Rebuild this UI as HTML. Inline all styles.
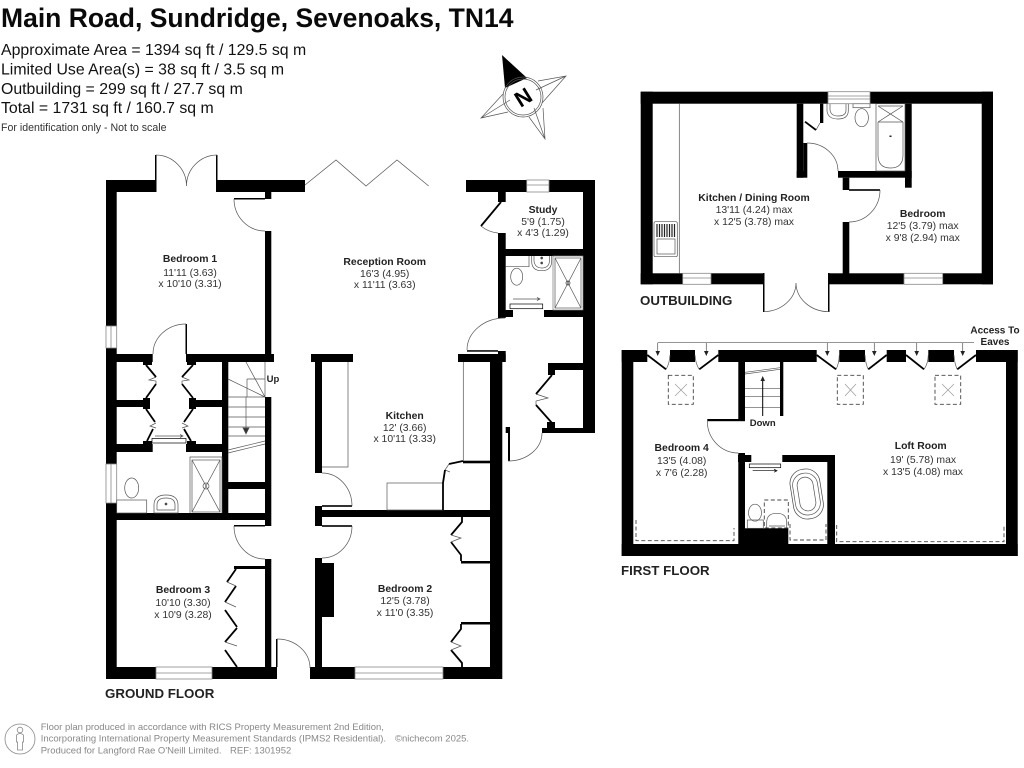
<!DOCTYPE html>
<html><head><meta charset="utf-8"><title>Floor plan</title>
<style>
html,body{margin:0;padding:0;background:#fff;width:1024px;height:768px;overflow:hidden}
svg{display:block}
text{font-family:"Liberation Sans",sans-serif}
.b{font-weight:700;font-size:10.4px;fill:#222;text-anchor:middle}
.d{font-size:10.4px;fill:#333;text-anchor:middle}
.f{font-weight:700;font-size:13.3px;fill:#222}
.i{font-size:15.85px;fill:#111}
.s{font-size:9.5px;fill:#888}
.t{fill:none;stroke:#555;stroke-width:.7}
.g{fill:none;stroke:#888;stroke-width:.8}
.k{fill:none;stroke:#000;stroke-width:1.8}
.da{fill:none;stroke:#444;stroke-width:.9;stroke-dasharray:4 2.5}
</style></head><body>
<svg width="1024" height="768" viewBox="0 0 1024 768" xmlns="http://www.w3.org/2000/svg">
<rect width="1024" height="768" fill="#fff"/>
<text x="1" y="27" font-size="26.5" font-weight="700" fill="#0a0a0a">Main Road, Sundridge, Sevenoaks, TN14</text>
<text class="i" x="1" y="55">Approximate Area = 1394 sq ft / 129.5 sq m</text>
<text class="i" x="1" y="74.5">Limited Use Area(s) = 38 sq ft / 3.5 sq m</text>
<text class="i" x="1" y="94">Outbuilding = 299 sq ft / 27.7 sq m</text>
<text class="i" x="1" y="113">Total = 1731 sq ft / 160.7 sq m</text>
<text x="1" y="131" font-size="10.6" fill="#333">For identification only - Not to scale</text>

<!-- compass -->
<g>
<path d="M502 55 L527 78 L505 88 Z" fill="#000"/>
<path d="M538 81 L566 76 L542 103 M542 103 L566 76 M543 108 L545 139 L529 117 M508 112 L481 118 L503 94 M481 118 L510 100 M566 76 L536 90 M545 139 L534 108" class="t"/>
<circle cx="523" cy="97" r="20" class="t"/><circle cx="523" cy="97" r="18" class="t"/>
<text x="523" y="105" font-size="22" font-weight="700" text-anchor="middle" transform="rotate(-32 523 97)" fill="#000">N</text>
</g>

<!-- GROUND FLOOR walls -->
<g fill="#000">
<rect x="106" y="180" width="50" height="12"/><rect x="216.5" y="180" width="88.5" height="12"/>
<rect x="265" y="192" width="6.3" height="7"/>
<rect x="106" y="180" width="10.7" height="146"/><rect x="106" y="348" width="10.7" height="116"/><rect x="106" y="503" width="10.7" height="176"/>
<rect x="116" y="354" width="36.7" height="8"/><rect x="186" y="354" width="88" height="8"/>
<rect x="143" y="362" width="9" height="3"/><rect x="187" y="362" width="9" height="3"/>
<rect x="222" y="354" width="6.3" height="163"/>
<rect x="116" y="400" width="30" height="7"/><rect x="143" y="398" width="7" height="11"/><rect x="189" y="400" width="33" height="7"/><rect x="189" y="398" width="7" height="11"/>
<rect x="116" y="444" width="36.7" height="8"/><rect x="186" y="444" width="36" height="8"/>
<rect x="143" y="441" width="9" height="3"/><rect x="187" y="441" width="9" height="3"/>
<rect x="116" y="513" width="149" height="7"/><rect x="228" y="482" width="37" height="7"/>
<rect x="265" y="231" width="6.3" height="130"/><rect x="265" y="397" width="6.3" height="129"/><rect x="265" y="559" width="6.3" height="110"/>
<rect x="106" y="667" width="50" height="12"/><rect x="212" y="667" width="65" height="12"/>
<rect x="276" y="639" width="1.5" height="28"/>
<rect x="310" y="667" width="45" height="12"/><rect x="443" y="667" width="59" height="12"/>
<rect x="311" y="354" width="42" height="8"/><rect x="315" y="362" width="7" height="111"/>
<rect x="315" y="506" width="7" height="20"/><rect x="322" y="510" width="168" height="7"/>
<rect x="315" y="558" width="7" height="110"/><rect x="322" y="563" width="12" height="54"/>
<rect x="458" y="354" width="47.7" height="8"/><rect x="498" y="351" width="7.7" height="11"/>
<rect x="490" y="354" width="12.3" height="325"/>
<rect x="466" y="180" width="60.7" height="12"/><rect x="549" y="180" width="46" height="12"/>
<rect x="498" y="192" width="7.7" height="10"/><rect x="498" y="233" width="7.7" height="85"/>
<rect x="498" y="310" width="15" height="7"/><rect x="544" y="310" width="39" height="7"/>
<rect x="505" y="249" width="78" height="7"/>
<rect x="583" y="180" width="12" height="253"/>
<rect x="548" y="363" width="35" height="7"/><rect x="548" y="363" width="7" height="12"/>
<rect x="542" y="428" width="53" height="5"/><rect x="547" y="422" width="8" height="6"/>
<rect x="508" y="428" width="2" height="33"/><rect x="505.7" y="427" width="4.3" height="6"/>
<rect x="234" y="198" width="31" height="1.5"/><rect x="234" y="525" width="31" height="1.5"/>
<rect x="322" y="505.2" width="30" height="1.6"/><rect x="322" y="525.2" width="30" height="1.6"/>
<rect x="467" y="350.2" width="31" height="1.5"/>
<rect x="185.5" y="324" width="1.5" height="30"/>
<rect x="234" y="566" width="31" height="3"/>
<rect x="461" y="561" width="29" height="2.5"/><rect x="461" y="622" width="29" height="2.5"/>
<rect x="463" y="460.7" width="27" height="2.6"/>
<rect x="155" y="155" width="1.5" height="37"/><rect x="216" y="155" width="1.5" height="37"/>
</g>
<g class="t">
<path d="M156 155 A31 31 0 0 1 186.5 186 M217 155 A31 31 0 0 0 186.5 186"/>
<path d="M234 199 A31 32 0 0 0 265 231 M234 526 A31 33 0 0 0 265 559 M186 324 A33 30 0 0 0 153 354"/>
<path d="M277 639 A33 29 0 0 1 310 668"/>
<path d="M322 473 A30 33 0 0 1 352 506 M352 526 A30 32 0 0 1 322 558"/>
<path d="M467 350 A38 32 0 0 1 505 318 M481 226 Q488 232 498 233"/>
<path d="M542 433 A34 28 0 0 1 508 461"/>
<path d="M305 185 L336 160 L366 186 L397 160 L428.7 186"/>
<path d="M322 467 H348 V362"/><path d="M463.3 362 V461"/>
<rect x="387" y="483" width="56" height="27"/>
<!-- closets zig -->
<path d="M156 377 L149 380 L156 381 L156 384 M182 377 L189 380 L182 381 L182 384 M156 423 L150 426 L156 428 M182 423 L188 426 L182 428"/>
<path d="M536 394 L548 398 L536 401 L536 405"/>
<path d="M449 464 L445 470 L450 472"/>
<!-- stairs -->
<path d="M265 362 V397 M246 362 L265 397 M228 379 L265 397 M247 379 H265 M247 379 V397 M228 397 H265 M228 407 H265 M228 417 H265 M228 427 H265 M228 436 H265 M228 450 L265 441 M228 453 L265 444"/>
<path d="M246 397 V432"/><path d="M243 428 L246 434 L249 428 Z" fill="#333"/>
<path d="M190 513 V457 H222 V513"/>
</g>
<g class="g">
<rect x="106" y="326" width="10.7" height="22"/><path d="M111 326 V348"/>
<rect x="526.7" y="180" width="22.3" height="12"/><path d="M526.7 185 H549"/>
<rect x="106" y="464" width="10.7" height="39"/><path d="M111 464 V503"/>
<rect x="156" y="667" width="56" height="12"/><path d="M156 673 H212"/>
<rect x="355" y="667" width="88" height="12"/><path d="M355 673 H443"/>
</g>
<g class="k">
<path d="M146 365 L156 377 M156 384 L146 398 M193 365 L182 377 M182 384 L193 398 M146 409 L155 422 M153 429 L147 441 M193 409 L184 422 M184 429 L191 441"/>
<path d="M501 202 L481 226"/>
<path d="M552 375 L536 394 M536 405 L552 423"/>
<path d="M236 569 L227 582 M236 586 L225 602 M225 610 L237 627 M237 628 L225 642 M225 650 L237 667"/>
<path d="M463 461 L449 464 M445 470 L443 483 V510"/>
<path d="M462 517 V522 L451 535 M451 542 L461 555 V561"/>
<path d="M461 624 V629 L451 642 M451 650 L462 663 V667"/>
</g>
<g class="t">
<path d="M227 582 L236 586 M225 602 L236 607 M225 642 L237 646"/>
<path d="M451 535 L461 538 L451 542 M451 642 L461 646 L451 650"/>
<!-- GF bath -->
<rect x="192" y="460" width="28" height="52"/><path d="M192 460 L220 512 M220 460 L192 512"/>
<circle cx="206" cy="486" r="3"/>
<ellipse cx="131.7" cy="488" rx="7" ry="10"/><rect x="116.7" y="500" width="30" height="13"/>
<path d="M154 513 V505 Q154 495 166 495 Q178 495 178 505 V513 Z"/><path d="M157 510 V505 Q157 498 166 498 Q175 498 175 505 V510 H157"/>
<circle cx="166" cy="504" r="1" fill="#333"/>
<rect x="152" y="438.5" width="34" height="4.5" stroke="#000"/>
<path d="M155 436 H182 M180 434.5 L183 436 L180 437.5"/>
<!-- upper shower room -->
<rect x="553" y="256" width="30" height="54" stroke="#777"/><rect x="555" y="258" width="26" height="50"/>
<path d="M555 258 L581 308 M581 258 L555 308"/><circle cx="568" cy="283" r="2" stroke="#222"/>
<path d="M505.7 266.7 H529 V256"/><ellipse cx="516.7" cy="276.7" rx="6" ry="8.5"/>
<path d="M531.7 256 V262 Q532 270.7 541.7 270.7 Q551 270.7 551.7 262 V256 M534 256 V261 Q535 268 541.7 268 Q549 268 549.5 261 V256"/>
<circle cx="541.7" cy="263" r="1" fill="#333"/><circle cx="541.7" cy="258" r="1" fill="#333"/>
<rect x="510" y="304" width="32.7" height="4.7" stroke="#000"/>
<path d="M513 299 H539 M537 297.5 L540 299 L537 300.5"/>
</g>

<!-- OUTBUILDING -->
<g fill="#000">
<rect x="640.7" y="91.7" width="187.3" height="12"/><rect x="870" y="91.7" width="123" height="12"/>
<rect x="640.7" y="91.7" width="12" height="192.6"/><rect x="981.7" y="91.7" width="11.3" height="192.6"/>
<rect x="640.7" y="273.3" width="42" height="11"/><rect x="711" y="273.3" width="52.3" height="11"/>
<rect x="828.7" y="273.3" width="75.3" height="11"/><rect x="942.7" y="273.3" width="50.3" height="11"/>
<rect x="796.7" y="103.7" width="6.6" height="74"/><rect x="796.7" y="171" width="10.6" height="6.7"/><rect x="803.3" y="143" width="4" height="28"/>
<rect x="820" y="103.7" width="3.3" height="19.3"/>
<rect x="838" y="171" width="73.7" height="6.7"/><rect x="905" y="103.7" width="6.7" height="84"/>
<rect x="842.7" y="177.7" width="6.6" height="12.3"/><rect x="849" y="189.2" width="31" height="1.6"/>
<rect x="842.7" y="222" width="6.6" height="52"/>
<rect x="763" y="273" width="1.5" height="39"/><rect x="828" y="273" width="1.5" height="39"/>
</g>
<g class="t">
<path d="M679.3 103.7 V273.3"/>
<path d="M807 143 A31 28 0 0 1 838 171 M880 190 A31 32 0 0 1 849 222 M816 130 L820 123"/>
<path d="M764 311.7 A33 29 0 0 0 796 283 M829 311.7 A33 29 0 0 1 796 283"/>
<rect x="654" y="221.7" width="23.3" height="35" rx="1.5"/><rect x="657" y="239" width="18" height="15"/>
<path d="M827 103.7 V111 Q828 119 838 119 Q848 119 848.3 111 V103.7 M830 104 V110 Q831 116 838 116 Q846 116 846 110 V104"/>
<ellipse cx="861.7" cy="117.7" rx="6.7" ry="9"/><rect x="853" y="103.7" width="17" height="4"/>
<rect x="876" y="103.7" width="29" height="67.3"/>
<path d="M878 106 L903 106 M878 106 L903 122 M903 106 L878 122 M878 122 H903"/>
<path d="M878 122 V155 Q878 168 890.5 168 Q903 168 903 155 V122"/>
</g>
<path d="M657 224 V237 M659.5 224 V237 M662 224 V237 M664.5 224 V237 M667 224 V237 M669.5 224 V237 M672 224 V237 M674.5 224 V237" stroke="#222" stroke-width="1.2"/>
<rect x="889.5" y="135.5" width="2" height="1.5" fill="#222"/>
<g class="k"><path d="M805 121.7 L816 130" /></g>
<g class="g">
<rect x="682.7" y="273.3" width="28.3" height="11"/><path d="M682.7 278 H711"/>
<rect x="828" y="91.7" width="42" height="12"/><path d="M828 96 H870 M828 99 H870"/>
<rect x="904" y="273.3" width="38.7" height="11"/><path d="M904 278 H942.7"/>
</g>

<!-- FIRST FLOOR -->
<g fill="#000">
<rect x="621.7" y="350" width="25.6" height="12"/><rect x="670" y="350" width="25" height="12"/>
<rect x="718.3" y="350" width="98.4" height="12"/><rect x="839.3" y="350" width="25.7" height="12"/>
<rect x="886.7" y="350" width="19.3" height="12"/><rect x="928.3" y="350" width="25.7" height="12"/>
<rect x="976" y="350" width="41.7" height="12"/>
<rect x="621.7" y="350" width="11.6" height="206"/><rect x="1006" y="350" width="11.7" height="206"/>
<rect x="621.7" y="544" width="396" height="12"/>
<rect x="738.3" y="362" width="6.7" height="59"/><rect x="780" y="362" width="3.3" height="54"/>
<rect x="707.3" y="419" width="37.7" height="2.2"/>
<rect x="738.3" y="453" width="6.7" height="95"/><rect x="738" y="455" width="13.3" height="7"/>
<rect x="782.3" y="455" width="52.7" height="7"/><rect x="827.3" y="455" width="7.7" height="92"/>
<rect x="745" y="528.3" width="43.3" height="16"/>
</g>
<g class="t">
<path d="M707.3 421 A31 32 0 0 0 738.3 453"/>
<path d="M666 369.3 Q669.5 364 670 355 M699.3 369.3 Q695.5 364 695 355 M836 369.3 Q839 364 839.3 355 M868.3 369.3 Q865.5 364 865 355 M924 369.3 Q928 364 928.3 355 M957.3 369.3 Q954.5 364 954 355"/>
<path d="M657.7 342.7 H974"/>
<path d="M657.7 342.7 V354 M706.3 342.7 V354 M827.3 342.7 V354 M874.3 342.7 V354 M916.7 342.7 V354 M962.7 342.7 V354"/>
<path d="M745 372.3 L780 367.7 M745 374 L780 369.3 M745 388.3 H780 M745 396.7 H780 M745 407.3 H780"/>
<path d="M762.7 416 V379" stroke="#000" stroke-width="1"/>
<rect x="749.3" y="464" width="31.4" height="3.7" stroke="#000"/>
<path d="M752.7 470.7 H776 M774 469.2 L777 470.7 L774 472.2" stroke="#000"/>
<g transform="rotate(-9 806.7 494)"><rect x="791.7" y="469" width="30" height="50" rx="14" stroke="#444"/><rect x="794" y="473" width="25" height="42" rx="12"/><rect x="798.5" y="477" width="16" height="34" rx="8"/></g>
<ellipse cx="755" cy="512.7" rx="6.5" ry="8.5"/><rect x="747.3" y="520" width="16" height="8.3"/>
<path d="M766.7 528.3 V522 Q767 513.3 776.7 513.3 Q786.5 513.3 786.7 522 V528.3 M769 526 H785"/>
</g>
<path d="M655.5 351 L657.7 356 L660 351 Z M704 351 L706.3 356 L708.6 351 Z M825 351 L827.3 356 L829.6 351 Z M872 351 L874.3 356 L876.6 351 Z M914.4 351 L916.7 356 L919 351 Z M960.4 351 L962.7 356 L965 351 Z M760.5 381 L762.7 376 L765 381 Z" fill="#222"/>
<g class="k">
<path d="M647.3 355 L666 369.3 M718.3 355 L699.3 369.3 M816.7 355 L836 369.3 M886.7 355 L868.3 369.3 M906 355 L924 369.3 M976 355 L957.3 369.3"/>
</g>
<g class="da">
<rect x="668.3" y="375.3" width="25" height="29"/><rect x="837.3" y="375.3" width="26" height="29"/><rect x="935" y="375.3" width="25.7" height="29"/>
<path d="M636 520 V540.7 H734 V528 M790 524 V540 H826 V524 M836.7 525 V541.7 H1004 V525"/>
<rect x="764.3" y="500" width="24" height="28"/>
</g>
<path d="M675 384 L687 396 M687 384 L675 396 M845 384 L856 396 M856 384 L845 396 M942 384 L954 396 M954 384 L942 396" stroke="#999" stroke-width=".7"/>

<!-- labels -->
<text class="b" x="190" y="262">Bedroom 1</text><text class="d" x="190" y="276">11'11 (3.63)</text><text class="d" x="190" y="287">x 10'10 (3.31)</text>
<text class="b" x="384.7" y="265">Reception Room</text><text class="d" x="384.7" y="277">16'3 (4.95)</text><text class="d" x="384.7" y="288">x 11'11 (3.63)</text>
<text class="b" x="543" y="213">Study</text><text class="d" x="543" y="225">5'9 (1.75)</text><text class="d" x="543" y="236">x 4'3 (1.29)</text>
<text class="b" x="404.7" y="419">Kitchen</text><text class="d" x="404.7" y="431">12' (3.66)</text><text class="d" x="404.7" y="442">x 10'11 (3.33)</text>
<text class="b" x="183" y="593">Bedroom 3</text><text class="d" x="183" y="606">10'10 (3.30)</text><text class="d" x="183" y="618">x 10'9 (3.28)</text>
<text class="b" x="405" y="592">Bedroom 2</text><text class="d" x="405" y="604">12'5 (3.78)</text><text class="d" x="405" y="616">x 11'0 (3.35)</text>
<text class="b" x="273" y="382" style="font-size:9.5px">Up</text>
<text class="b" x="754" y="201">Kitchen / Dining Room</text><text class="d" x="754" y="213">13'11 (4.24) max</text><text class="d" x="754" y="225">x 12'5 (3.78) max</text>
<text class="b" x="922.7" y="217">Bedroom</text><text class="d" x="922.7" y="229">12'5 (3.79) max</text><text class="d" x="922.7" y="241">x 9'8 (2.94) max</text>
<text class="b" x="681.7" y="451">Bedroom 4</text><text class="d" x="681.7" y="464">13'5 (4.08)</text><text class="d" x="681.7" y="476">x 7'6 (2.28)</text>
<text class="b" x="920.7" y="449">Loft Room</text><text class="d" x="923" y="463">19' (5.78) max</text><text class="d" x="923" y="475">x 13'5 (4.08) max</text>
<text class="b" x="762.7" y="426" style="font-size:9.5px">Down</text>
<text class="b" x="995" y="333.5" style="font-size:10px">Access To</text><text class="b" x="995" y="345" style="font-size:10px">Eaves</text>
<text class="f" x="105" y="698">GROUND FLOOR</text>
<text class="f" x="640" y="305">OUTBUILDING</text>
<text class="f" x="621" y="575">FIRST FLOOR</text>

<!-- footer -->
<circle cx="20" cy="739" r="15" class="g"/>
<circle cx="20" cy="730" r="2.8" class="g"/>
<path d="M16.5 735 Q20 732 23.5 735 V742 H22.5 V750 H17.5 V742 H16.5 Z" class="g"/>
<text class="s" x="40.7" y="730">Floor plan produced in accordance with RICS Property Measurement 2nd Edition,</text>
<text class="s" x="40.7" y="741.7">Incorporating International Property Measurement Standards (IPMS2 Residential).</text>
<text class="s" x="395" y="741.7">©nichecom 2025.</text>
<text class="s" x="40.7" y="753.3">Produced for Langford Rae O'Neill Limited.</text>
<text class="s" x="230" y="753.3">REF:  1301952</text>
</svg>
</body></html>
